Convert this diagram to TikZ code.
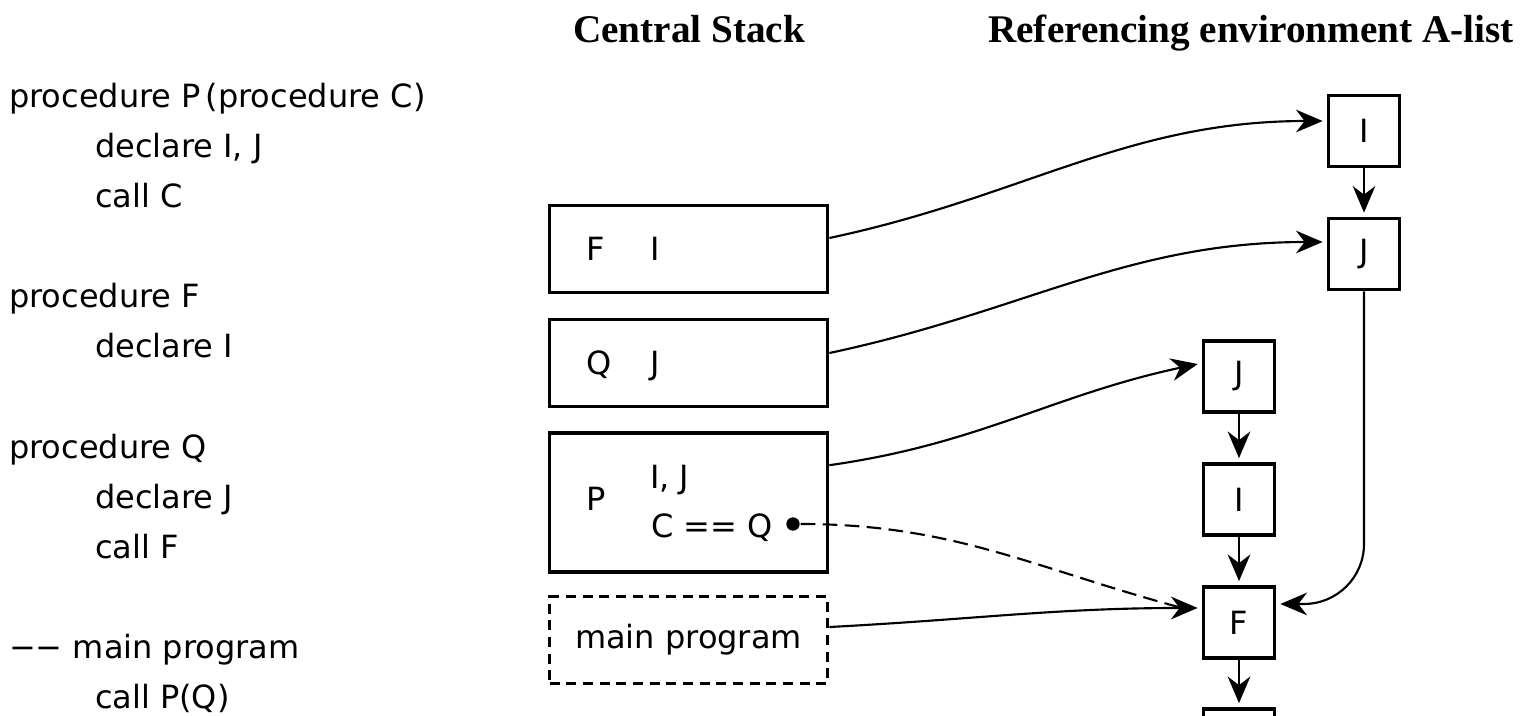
\documentclass[tikz,border=0pt]{standalone}
\usepackage{fontspec}
\setmainfont{DejaVu Sans}
\newfontfamily\headfont{Liberation Serif}
\usetikzlibrary{arrows.meta}

\tikzset{every picture/.style={line width=1.6pt}}
\tikzset{
  every node/.style={font=\fontsize{24}{30}\selectfont},
  head/.style={anchor=base, inner sep=0pt, font=\fontsize{29.4}{34}\selectfont\headfont\bfseries},
  codeline/.style={anchor=base west, inner sep=0pt},
  stackbox/.style={draw, line width=2.8pt, minimum width=208.5pt, minimum height=65.25pt, inner sep=0pt},
  listbox/.style={draw, line width=2.8pt, minimum width=53.25pt, minimum height=53.25pt, inner sep=0pt},
  link/.style={-{Stealth[length=20pt,width=17pt,inset=6.5pt]}, shorten >=3pt},
}

\begin{document}
\begin{tikzpicture}[x=0.75pt,y=0.75pt,yscale=-1,xscale=1]
\clip (0,0) rectangle (1523,715);

% Headings
\node [head] (hStack) at (689,42) {Central Stack};
\node [head] (hList) at (1251,42) {Referencing environment A-list};

% Source lines
\node [codeline] (lnA) at (8,107) {procedure P\hspace{0.15em}(procedure C)};
\node [codeline] (lnB) at (94,157) {declare I, J};
\node [codeline] (lnC) at (94,207) {call C};
\node [codeline] (lnD) at (8,307) {procedure F};
\node [codeline] (lnE) at (94,357) {declare I};
\node [codeline] (lnF) at (8,458) {procedure Q};
\node [codeline] (lnG) at (94,508) {declare J};
\node [codeline] (lnH) at (94,558) {call F};
\node [codeline] (lnI) at (8,658) {−− main program};
\node [codeline] (lnJ) at (94,708) {call P(Q)};

% Stack frames
\node [stackbox] (fiBox) at (688.5,249) {};
\node [codeline] (fiText) at (585,260.5) {\makebox[48pt][l]{F}I};
\node [stackbox] (qjBox) at (688.5,363) {};
\node [codeline] (qjText) at (585,374.5) {\makebox[48pt][l]{Q}J};
\node [stackbox, minimum height=104.25pt] (pBox) at (688.5,502.5) {};
\node [codeline] (pName) at (585,510) {P};
\node [codeline] (pVars) at (649,488) {I, J};
\node [codeline] (pProc) at (650,537) {C == Q};
\node [circle, fill, inner sep=0pt, minimum size=10pt] (cDot) at (793,524) {};
\node [stackbox, dash pattern=on 7.5pt off 5pt] (mainBox) at (688.5,640) {main program};

% A-list cells
\node [listbox] (aI) at (1364,131) {I};
\node [listbox] (aJ) at (1364,254) {J};
\node [listbox] (bJ) at (1239,376.5) {J};
\node [listbox] (bI) at (1239,499.5) {I};
\node [listbox] (bF) at (1239,622.5) {F};
\node [listbox] (bNext) at (1239,744.5) {};

% Frames to their entries
\draw [link] ([yshift=-8.25pt]fiBox.east) to[out=-12,in=180] ([yshift=-7.5pt]aI.west);
\draw [link] ([yshift=-7.5pt]qjBox.east) to[out=-12,in=180] ([yshift=-9pt]aJ.west);
\draw [link] ([yshift=-28pt]pBox.east) to[out=-8,in=168] ([yshift=-10pt]bJ.west);
\draw [link] ([yshift=-9.75pt]mainBox.east) to[out=-3,in=180] ([yshift=-10.9pt]bF.west);
\coordinate (cEnd) at ([xshift=-15pt,yshift=-11pt]bF.west);
\draw [dash pattern=on 11pt off 5.5pt] (cDot) to[out=0,in=195] (cEnd);

% A-list chains
\draw [link] (aI) -- (aJ);
\draw [link] (bJ) -- (bI);
\draw [link] (bI) -- (bF);
\draw [link] (bF) -- (bNext);
\draw [link, rounded corners=45pt] (aJ.south) |- ([yshift=-13.9pt]bF.east);

\end{tikzpicture}
\end{document}
